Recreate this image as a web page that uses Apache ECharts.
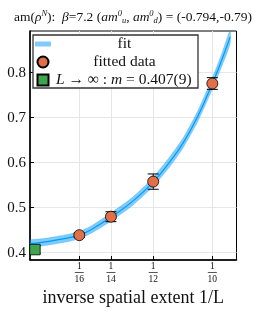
<!DOCTYPE html>
<html><head><meta charset="utf-8">
<script src="https://cdn.jsdelivr.net/npm/echarts@6/dist/echarts.min.js"></script>
<style>html,body{margin:0;padding:0;background:#fff}#c{width:266px;height:312px}</style>
</head><body><div id="c"></div>
<script>
// fit curve (1/L, mass, ribbon half-width)
const fitX = [0.0486, 0.052, 0.056, 0.0595, 0.0625, 0.066, 0.0714, 0.0775, 0.0833, 0.088, 0.092, 0.096, 0.1, 0.1025, 0.105];
const fitY = [0.420, 0.423, 0.428, 0.433, 0.439, 0.452, 0.479, 0.514, 0.557, 0.602, 0.647, 0.705, 0.776, 0.825, 0.879];
const fitErr = [0.008, 0.008, 0.008, 0.008, 0.008, 0.008, 0.009, 0.009, 0.010, 0.011, 0.011, 0.012, 0.013, 0.014, 0.015];
// fitted data
const dataX = [1/16, 1/14, 1/12, 1/10];
const dataY = [0.439, 0.480, 0.558, 0.776];
const dataErr = [0.005, 0.011, 0.017, 0.013];
// infinite volume
const infX = [1/20];
const infY = [0.407];
const infErr = [0.009];
// ticks
const xTicks = [1/16, 1/14, 1/12, 1/10];
const xTickDen = ['16', '14', '12', '10'];
const yTicks = [0.4, 0.5, 0.6, 0.7, 0.8];

const SERIF = '"Liberation Serif", "DejaVu Serif", serif';
const BAND = 'rgba(0,154,250,0.5)';
const chart = echarts.init(document.getElementById('c'), null, {renderer: 'canvas'});

const fitLine = fitX.map((x, i) => [x, fitY[i]]);
const pts = dataX.map((x, i) => [x, dataY[i], dataErr[i]]);
const infPts = infX.map((x, i) => [x, infY[i], infErr[i]]);
const INF_NAME = 'L → ∞ : m = 0.407(9)';

function bandRender(params, api) {
  if (params.dataIndex !== 0) return;
  const up = fitX.map((x, i) => api.coord([x, fitY[i] + fitErr[i]]));
  const lo = fitX.map((x, i) => api.coord([x, fitY[i] - fitErr[i]])).reverse();
  return {type: 'polygon', shape: {points: up.concat(lo), smooth: 0.2},
          style: {fill: BAND, stroke: BAND, lineWidth: 0.5}};
}

function errRender(params, api) {
  const x = api.value(0), y = api.value(1), e = api.value(2);
  const t = api.coord([x, y + e]), b = api.coord([x, y - e]);
  const w = 5.5;
  const st = {stroke: '#000', lineWidth: 1};
  return {type: 'group', children: [
    {type: 'line', shape: {x1: t[0], y1: t[1], x2: b[0], y2: b[1]}, style: st},
    {type: 'line', shape: {x1: t[0] - w, y1: t[1], x2: t[0] + w, y2: t[1]}, style: st},
    {type: 'line', shape: {x1: b[0] - w, y1: b[1], x2: b[0] + w, y2: b[1]}, style: st}
  ]};
}

const option = {
  animation: false,
  backgroundColor: '#fff',
  title: {
    left: 'center', top: 4,
    text: '{r|am(}{i|ρ}{sup|N}{r|):  }{i|β}{r|=7.2 (}{i|am}{sup|0}{sub|u}{r|, }{i|am}{sup|0}{sub|d}{r|) = (-0.794,-0.79)}',
    textStyle: {
      fontWeight: 'normal',
      rich: {
        r: {fontFamily: SERIF, fontSize: 13.5, fontWeight: 'normal', color: '#111', lineHeight: 16},
        i: {fontFamily: SERIF, fontSize: 13.5, fontWeight: 'normal', fontStyle: 'italic', color: '#111', lineHeight: 16},
        sup: {fontFamily: SERIF, fontSize: 8.5, fontWeight: 'normal', fontStyle: 'italic', color: '#111', verticalAlign: 'top', lineHeight: 16},
        sub: {fontFamily: SERIF, fontSize: 8.5, fontWeight: 'normal', fontStyle: 'italic', color: '#111', verticalAlign: 'bottom', lineHeight: 16}
      }
    }
  },
  grid: {left: 30, right: 29.5, top: 31, bottom: 52, show: true, borderColor: '#000', borderWidth: 1, backgroundColor: 'transparent'},
  legend: {
    left: 33, top: 35, orient: 'vertical',
    itemWidth: 16, itemHeight: 11, itemGap: 2,
    padding: [1, 5, 0, 2],
    borderColor: '#333', borderWidth: 1.3, backgroundColor: '#fff',
    symbolKeepAspect: true,
    data: [
      {name: 'fit', icon: 'path://M0,0h16v5h-16z', itemStyle: {color: BAND, borderWidth: 0}},
      {name: 'fitted data', icon: 'circle'},
      {name: INF_NAME, icon: 'path://M0,0h10v10h-10z'}
    ],
    formatter: function (name) {
      if (name === INF_NAME) return '{i|L} {t|→ ∞ :} {i|m} {t|= 0.407(9)}';
      return '{c|' + name + '}';
    },
    textStyle: {
      fontFamily: SERIF, fontSize: 15.5, color: '#111', lineHeight: 16,
      rich: {
        c: {fontFamily: SERIF, fontSize: 15.5, color: '#111', width: 137, align: 'center', lineHeight: 16},
        t: {fontFamily: SERIF, fontSize: 15.5, color: '#111', lineHeight: 16},
        i: {fontFamily: SERIF, fontSize: 15.5, fontStyle: 'italic', color: '#111', lineHeight: 16}
      }
    }
  },
  xAxis: {
    type: 'value', min: 0.04861, max: 0.10681,
    name: 'inverse spatial extent 1/L', nameLocation: 'middle', nameGap: 26,
    nameTextStyle: {fontFamily: SERIF, fontSize: 18, color: '#111'},
    axisLine: {show: true, onZero: false, lineStyle: {color: '#000', width: 1.5}},
    axisTick: {show: true, inside: true, length: 4, customValues: xTicks, lineStyle: {color: '#000', width: 1}},
    axisLabel: {
      customValues: xTicks, margin: 2,
      formatter: function (v) {
        let k = 0;
        xTicks.forEach((t, i) => { if (Math.abs(t - v) < 1e-6) k = i; });
        return '{n|1}\n{bar| }\n{d|' + xTickDen[k] + '}';
      },
      rich: {
        n: {fontFamily: SERIF, fontSize: 9.5, color: '#111', lineHeight: 9, align: 'center'},
        bar: {width: 9, height: 0.7, lineHeight: 3, backgroundColor: '#111', fontSize: 1},
        d: {fontFamily: SERIF, fontSize: 9.5, color: '#111', lineHeight: 10, align: 'center'}
      }
    },
    splitLine: {show: true, lineStyle: {color: '#e6e6e6', width: 1}}
  },
  yAxis: {
    type: 'value', min: 0.3838, max: 0.8927,
    axisLine: {show: true, onZero: false, lineStyle: {color: '#000', width: 1.5}},
    axisTick: {show: true, inside: true, length: 4, customValues: yTicks, lineStyle: {color: '#000', width: 1}},
    axisLabel: {customValues: yTicks, margin: 4, fontFamily: SERIF, fontSize: 15, color: '#111',
      formatter: v => v.toFixed(1)},
    splitLine: {show: true, lineStyle: {color: '#e6e6e6', width: 1}}
  },
  series: [
    {type: 'custom', name: 'fit', data: fitLine, renderItem: bandRender, itemStyle: {color: BAND}, silent: true, z: 2, clip: true},
    {type: 'line', name: 'fitLine', data: fitLine, smooth: true, symbol: 'none',
     lineStyle: {color: '#009AFA', width: 1.2}, z: 3},
    {type: 'custom', name: 'errData', data: pts, renderItem: errRender, z: 4},
    {type: 'custom', name: 'errInf', data: infPts, renderItem: errRender, z: 4},
    {type: 'scatter', name: 'fitted data', data: pts, symbol: 'circle', symbolSize: 11,
     itemStyle: {color: '#E36F47', borderColor: '#000', borderWidth: 0.8, opacity: 1}, z: 5},
    {type: 'scatter', name: INF_NAME, data: infPts, symbol: 'path://M0,0h10v10h-10z', symbolKeepAspect: true, symbolSize: 10.5,
     itemStyle: {color: '#3EA44E', borderColor: '#000', borderWidth: 0.8, opacity: 1}, z: 5}
  ]
};
chart.setOption(option);
</script>
</body></html>
